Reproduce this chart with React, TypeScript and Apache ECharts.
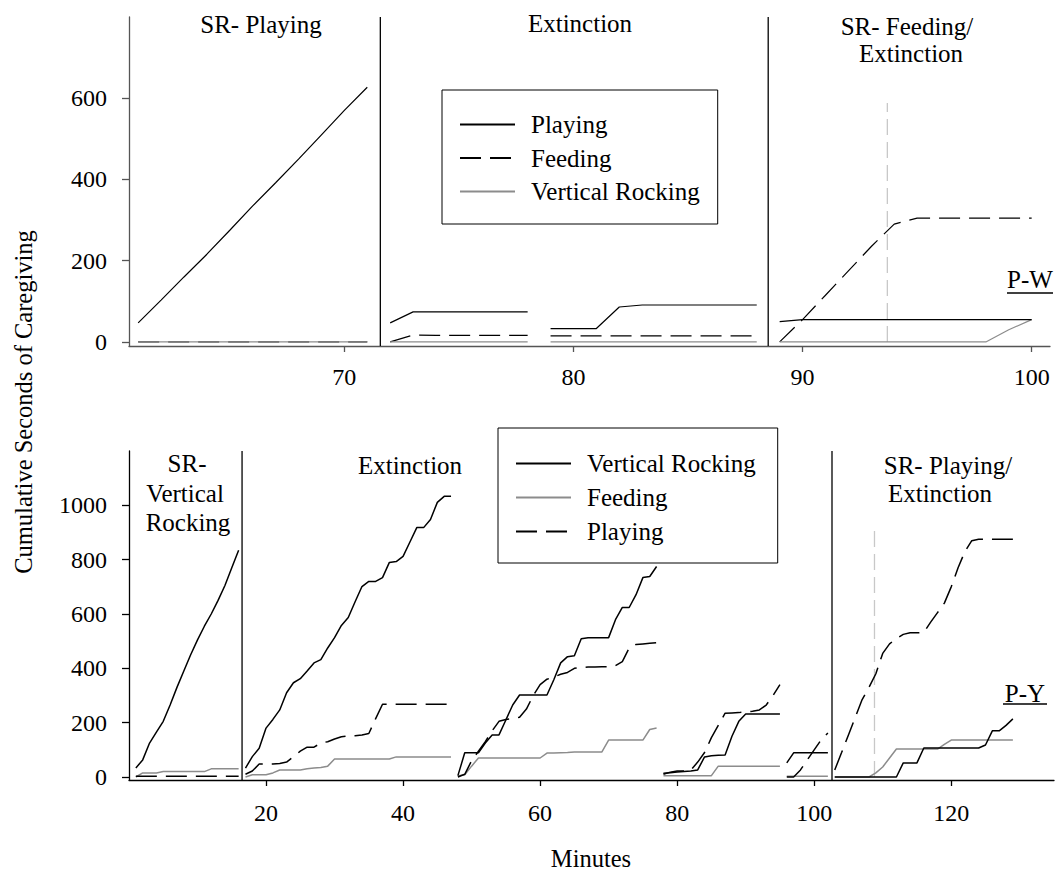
import React, { useEffect, useRef } from "react";
import * as echarts from "echarts";

const FONT = "'Liberation Serif', 'Times New Roman', serif";
const FS = 25;
const TICK_FS = 24;

// ---------------- Top panel (P-W) ----------------
const topMinutes = [
  [61, 62, 63, 64, 65, 66, 67, 68, 69, 70, 71],
  [72, 73, 74, 75, 76, 77, 78],
  [79, 80, 81, 82, 83, 84, 85, 86, 87, 88],
  [89, 90, 91, 92, 93, 94, 95, 96, 97, 98, 99, 100],
];
const topPlaying = [
  [47, 103, 160, 216, 275, 335, 392, 450, 510, 570, 627],
  [47, 74, 74, 74, 74, 74, 74],
  [33, 33, 33, 86, 91, 91, 91, 91, 91, 91],
  [50, 55, 55, 55, 55, 55, 55, 55, 55, 55, 55, 55],
];
const topFeeding = [
  [0, 0, 0, 0, 0, 0, 0, 0, 0, 0, 0],
  [0, 17, 16, 16, 16, 16, 16],
  [15, 15, 15, 15, 15, 15, 15, 15, 15, 15],
  [0, 55, 115, 175, 235, 290, 305, 305, 305, 305, 305, 305],
];
const topRocking = [
  [0, 0, 0, 0, 0, 0, 0, 0, 0, 0, 0],
  [0, 0, 0, 0, 0, 0, 0],
  [0, 0, 0, 0, 0, 0, 0, 0, 0, 0],
  [0, 0, 0, 0, 0, 0, 0, 0, 0, 0, 30, 55],
];
const topPhaseBoundaries = [71.57, 88.5];
const topSwitchMinute = 93.7;
const topSwitchHeight = 588;
const topXTicks = [70, 80, 90, 100];
const topYTicks = [0, 200, 400, 600];

// ---------------- Bottom panel (P-Y) ----------------
const botMinutes = [
  [1, 2, 3, 4, 5, 6, 7, 8, 9, 10, 11, 12, 13, 14, 15, 16],
  [17, 18, 19, 20, 21, 22, 23, 24, 25, 26, 27, 28, 29, 30, 31, 32, 33, 34, 35, 36, 37, 38, 39, 40, 41, 42, 43, 44, 45, 46, 47],
  [48, 49, 50, 51, 52, 53, 54, 55, 56, 57, 58, 59, 60, 61, 62, 63, 64, 65, 66, 67, 68, 69, 70, 71, 72, 73, 74, 75, 76, 77],
  [78, 79, 80, 81, 82, 83, 84, 85, 86, 87, 88, 89, 90, 91, 92, 93, 94, 95],
  [96, 97, 98, 99, 100, 101, 102],
  [103, 104, 105, 106, 107, 108, 109, 110, 111, 112, 113, 114, 115, 116, 117, 118, 119, 120, 121, 122, 123, 124, 125, 126, 127, 128, 129],
];
const botRocking = [
  [33, 63, 125, 165, 205, 265, 330, 390, 450, 505, 555, 600, 650, 705, 770, 835],
  [33, 75, 106, 180, 212, 247, 310, 347, 362, 390, 420, 432, 475, 513, 558, 587, 645, 701, 720, 720, 734, 790, 793, 812, 865, 918, 918, 948, 1011, 1033, 1033],
  [5, 89, 89, 89, 125, 155, 155, 210, 265, 302, 302, 302, 302, 302, 358, 420, 443, 446, 509, 513, 513, 513, 513, 579, 624, 624, 671, 734, 738, 775],
  [14, 16, 18, 20, 22, 26, 74, 78, 80, 81, 150, 205, 232, 232, 232, 232, 232, 232],
  [52, 89, 89, 89, 89, 89, 89],
  [0, 0, 0, 0, 0, 0, 0, 0, 0, 0, 52, 52, 52, 107, 107, 107, 107, 107, 107, 107, 107, 107, 118, 170, 170, 190, 214],
];
const botFeeding = [
  [0, 15, 15, 15, 20, 20, 20, 20, 20, 20, 20, 30, 30, 30, 30, 30],
  [0, 8, 8, 8, 15, 26, 26, 26, 26, 30, 33, 35, 40, 66, 66, 66, 66, 66, 66, 66, 66, 66, 74, 74, 74, 74, 74, 74, 74, 74, 74],
  [5, 8, 40, 70, 70, 70, 70, 70, 70, 70, 70, 70, 70, 88, 88, 89, 90, 92, 92, 92, 92, 92, 136, 136, 136, 136, 136, 136, 175, 180],
  [5, 5, 5, 5, 5, 5, 5, 5, 40, 40, 40, 40, 40, 40, 40, 40, 40, 40],
  [3, 3, 3, 3, 3, 3, 3],
  [0, 0, 0, 0, 0, 0, 15, 37, 70, 103, 103, 103, 103, 103, 103, 103, 120, 136, 136, 136, 136, 136, 136, 136, 136, 136, 136],
];
const botPlaying = [
  [3, 3, 3, 3, 3, 3, 3, 3, 3, 3, 3, 3, 3, 3, 3, 3],
  [10, 22, 48, 48, 48, 50, 55, 75, 95, 110, 110, 125, 130, 140, 148, 152, 152, 155, 160, 215, 268, 268, 268, 268, 268, 268, 268, 268, 268, 268, 268],
  [0, 10, 60, 95, 130, 170, 205, 212, 215, 220, 250, 300, 340, 360, 368, 378, 385, 400, 403, 405, 405, 406, 406, 410, 425, 475, 488, 490, 492, 494],
  [10, 18, 22, 22, 25, 55, 90, 145, 190, 235, 236, 237, 240, 242, 247, 265, 300, 340],
  [0, 0, 26, 63, 100, 136, 162],
  [26, 90, 155, 220, 285, 330, 380, 455, 490, 510, 525, 531, 531, 532, 570, 605, 640, 700, 770, 830, 870, 875, 875, 875, 875, 875, 875],
];
const botPhaseBoundaries = [16.5, 102.6];
const botSwitchMinute = 108.8;
const botSwitchHeight = 930;
const botXTicks = [20, 40, 60, 80, 100, 120];
const botYTicks = [0, 200, 400, 600, 800, 1000];

const SUFFIX = " (P-Y)";

function joinSegments(mins: number[][], vals: number[][]) {
  const out: any[] = [];
  mins.forEach((m, i) => {
    if (i > 0) {
      const prev = mins[i - 1];
      out.push([(prev[prev.length - 1] + m[0]) / 2, "-"]);
    }
    m.forEach((x, j) => out.push([x, vals[i][j]]));
  });
  return out;
}

const DASH = [21, 9];
const GREY = "#8c8c8c";

function lineSeries(name: string, idx: number, data: any[], color: string, type: any, width: number, z = 3) {
  return {
    name,
    type: "line",
    xAxisIndex: idx,
    yAxisIndex: idx,
    data,
    symbol: "none",
    showSymbol: false,
    silent: true,
    itemStyle: { color },
    lineStyle: { color, width, type },
    z,
  };
}

function vLine(idx: number, x: number, y0: number, y1: number, color: string, type: any, width: number) {
  return {
    type: "line",
    xAxisIndex: idx,
    yAxisIndex: idx,
    data: [[x, y0], [x, y1]],
    symbol: "none",
    silent: true,
    itemStyle: { color },
    lineStyle: { color, width, type },
    z: 2,
  };
}

function axisX(idx: number, min: number, max: number, ticks: number[], color: string, margin: number) {
  return {
    type: "value",
    gridIndex: idx,
    min,
    max,
    axisLine: { show: true, onZero: false, lineStyle: { color, width: 1.3 } },
    axisTick: { show: true, customValues: ticks, length: 6, lineStyle: { color, width: 1.3 } },
    axisLabel: {
      customValues: ticks,
      fontFamily: FONT,
      fontSize: TICK_FS,
      color: "#000",
      margin,
      formatter: (v: number) => String(v),
    },
    splitLine: { show: false },
  };
}

function axisY(idx: number, min: number, max: number, ticks: number[], color: string) {
  return {
    type: "value",
    gridIndex: idx,
    min,
    max,
    axisLine: { show: true, onZero: false, lineStyle: { color, width: 1.3 } },
    axisTick: { show: true, customValues: ticks, length: 7, lineStyle: { color, width: 1.3 } },
    axisLabel: {
      customValues: ticks,
      fontFamily: FONT,
      fontSize: TICK_FS,
      color: "#000",
      margin: 22,
      formatter: (v: number) => String(v),
    },
    splitLine: { show: false },
  };
}

function txt(text: string, x: number, y: number, rotation = 0, size = FS) {
  return {
    type: "text",
    x,
    y,
    rotation,
    silent: true,
    style: {
      text,
      fill: "#000",
      fontSize: size,
      fontFamily: FONT,
      textAlign: "center",
      textVerticalAlign: "middle",
    },
  };
}

function uline(x1: number, x2: number, y: number) {
  return {
    type: "line",
    silent: true,
    shape: { x1, y1: y, x2, y2: y },
    style: { stroke: "#000", lineWidth: 1.6 },
  };
}

export default function App() {
  const ref = useRef<HTMLDivElement>(null);

  useEffect(() => {
    document.body.style.margin = "0";
    if (!ref.current) return;
    const chart = echarts.init(ref.current, undefined, { renderer: "svg" });

    const legendCommon = {
      orient: "vertical",
      itemWidth: 55,
      itemHeight: 24,
      borderColor: "#000",
      borderWidth: 1,
      selectedMode: false,
      itemStyle: { opacity: 0 },
      textStyle: {
        fontFamily: FONT,
        fontSize: FS,
        lineHeight: 24,
        color: "#000",
        padding: [0, 0, 0, 11],
      },
    };

    const option: any = {
      animation: false,
      backgroundColor: "#fff",
      grid: [
        { left: 129, right: 8, top: 17, height: 329, containLabel: false },
        { left: 129, right: 4, top: 451, height: 329, containLabel: false },
      ],
      xAxis: [
        axisX(0, 60.6, 100.8, topXTicks, "#555", 19),
        axisX(1, 0, 135, botXTicks, "#000", 21),
      ],
      yAxis: [
        axisY(0, -10, 800, topYTicks, "#555"),
        axisY(1, -11, 1200, botYTicks, "#000"),
      ],
      legend: [
        {
          ...legendCommon,
          data: ["Playing", "Feeding", "Vertical Rocking"],
          left: 442,
          top: 90,
          padding: [22, 18, 20, 17],
          itemGap: 8.5,
        },
        {
          ...legendCommon,
          data: ["Vertical Rocking" + SUFFIX, "Feeding" + SUFFIX, "Playing" + SUFFIX],
          left: 498,
          top: 428,
          padding: [23, 22, 19, 17],
          itemGap: 9,
          backgroundColor: "#fff",
          formatter: (n: string) => n.replace(SUFFIX, ""),
        },
      ],
      series: [
        ...topPhaseBoundaries.map((b) => vLine(0, b, -10, 800, "#000", "solid", 1.3)),
        vLine(0, topSwitchMinute, 0, topSwitchHeight, "#c8c8c8", [16, 7], 1.3),
        lineSeries("Feeding", 0, joinSegments(topMinutes, topFeeding), "#000", DASH, 1.2, 3),
        lineSeries("Vertical Rocking", 0, joinSegments(topMinutes, topRocking), GREY, "solid", 1.2, 4),
        lineSeries("Playing", 0, joinSegments(topMinutes, topPlaying), "#000", "solid", 1.2, 5),

        ...botPhaseBoundaries.map((b) => vLine(1, b, -11, 1200, "#000", "solid", 1.3)),
        vLine(1, botSwitchMinute, 0, botSwitchHeight, "#c8c8c8", [16, 7], 1.3),
        lineSeries("Feeding" + SUFFIX, 1, joinSegments(botMinutes, botFeeding), GREY, "solid", 1.5, 3),
        lineSeries("Playing" + SUFFIX, 1, joinSegments(botMinutes, botPlaying), "#000", DASH, 1.5, 4),
        lineSeries("Vertical Rocking" + SUFFIX, 1, joinSegments(botMinutes, botRocking), "#000", "solid", 1.5, 5),
      ],
      graphic: [
        txt("SR- Playing", 261, 24),
        txt("Extinction", 580, 23),
        txt("SR- Feeding/", 907, 26),
        txt("Extinction", 911, 53),
        txt("P-W", 1030, 279),
        uline(1007, 1053, 293),

        txt("SR-", 187, 463),
        txt("Vertical", 185, 493),
        txt("Rocking", 188, 522),
        txt("Extinction", 410, 465),
        txt("SR- Playing/", 948, 465),
        txt("Extinction", 940, 493),
        txt("P-Y", 1025, 693),
        uline(1003, 1047, 704),

        txt("Cumulative Seconds of Caregiving", 23, 402, Math.PI / 2, 24.5),
        txt("Minutes", 591, 858, 0, 24.5),
      ],
    };

    chart.setOption(option);
    return () => chart.dispose();
  }, []);

  return <div ref={ref} style={{ width: 1058, height: 875 }} />;
}
